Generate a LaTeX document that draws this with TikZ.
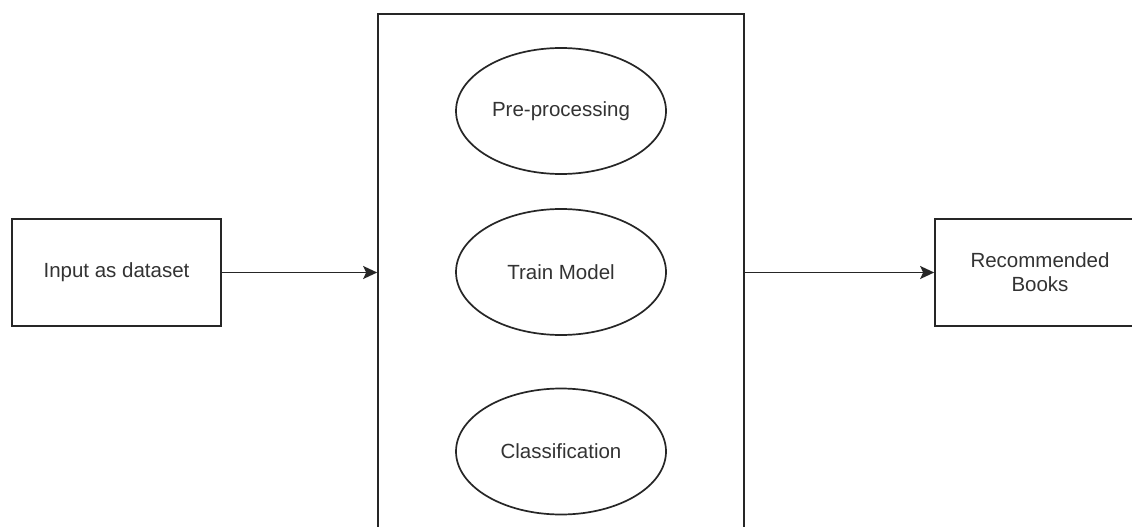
\documentclass[tikz,border=0pt]{standalone}
\usepackage{fontspec}
\setmainfont{Liberation Sans}
\usetikzlibrary{arrows.meta,shapes.geometric}
\begin{document}
\begin{tikzpicture}[x=1pt,y=-1pt,
  box/.style={draw=black!85, line width=1.7pt, rectangle, inner sep=0pt, align=center, text=black!80, font=\fontsize{20.5}{24}\selectfont},
  oval/.style={draw=black!85, line width=1.7pt, ellipse, inner sep=0pt, minimum width=210pt, minimum height=126pt, text=black!80, font=\fontsize{20.5}{24}\selectfont},
  conn/.style={draw=black!85, line width=1.5pt, -{Stealth[length=14pt,width=13pt,inset=3pt]}}]
\useasboundingbox (0,0) rectangle (1132,527);
\clip (0,0) rectangle (1132,527);
\fill[white] (0,0) rectangle (1132,527);
\node[box, minimum width=209pt, minimum height=107pt] (in) at (116.5,272.5) {Input as dataset};
\node[box, minimum width=366pt, minimum height=530pt] (mid) at (561,279) {};
\node[oval] (pre) at (561,111) {Pre-processing};
\node[oval] (train) at (561,272) {Train Model};
\node[oval] (cls) at (561,451.5) {Classification};
\node[box, minimum width=210pt, minimum height=107pt] (out) at (1040,272.5) {Recommended\\Books};
\draw[conn] (in.east) -- (in.east -| mid.west);
\draw[conn] (in.east -| mid.east) -- (out.west);
\end{tikzpicture}
\end{document}
